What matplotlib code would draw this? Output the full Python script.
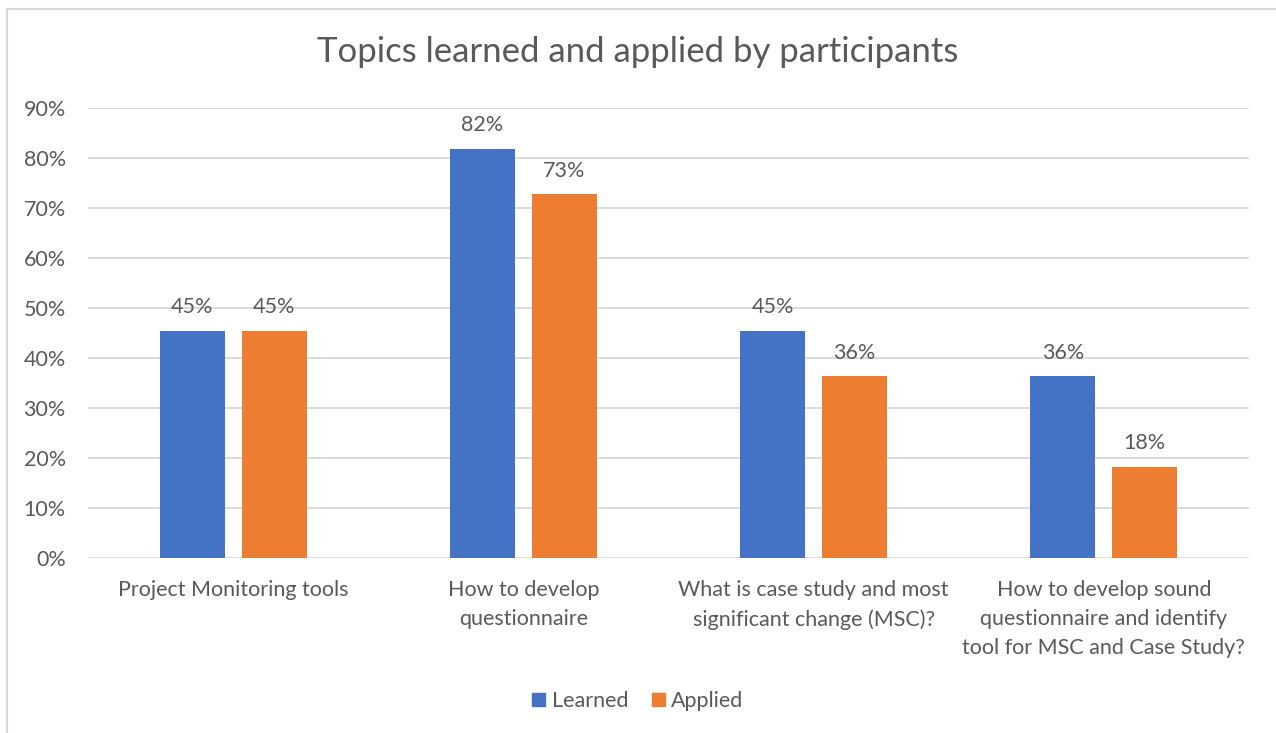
import matplotlib
matplotlib.use("Agg")
import matplotlib.pyplot as plt
import numpy as np
from matplotlib.lines import Line2D

categories = [
    "Project Monitoring tools",
    "How to develop\nquestionnaire",
    "What is case study and most\nsignificant change (MSC)?",
    "How to develop sound\nquestionnaire and identify\ntool for MSC and Case Study?",
]
learned = [0.4545, 0.8182, 0.4545, 0.3636]
applied = [0.4545, 0.7273, 0.3636, 0.1818]
series_names = ["Learned", "Applied"]
yticks = [0, 0.1, 0.2, 0.3, 0.4, 0.5, 0.6, 0.7, 0.8, 0.9]

plt.rcParams['font.family'] = ['Lato', 'DejaVu Sans']
text_color = "#595959"
blue = "#4472C4"
orange = "#ED7D31"
fs = 15.5

W, H = 1276, 733
fig = plt.figure(figsize=(W / 100, H / 100), dpi=100)
ax = fig.add_axes([88 / W, 1 - 558 / H, (1249 - 88) / W, (558 - 108) / H])

x = np.arange(len(categories))
bw = 0.224
off = 0.141
b1 = ax.bar(x - off, learned, bw, color=blue, label=series_names[0], zorder=3)
b2 = ax.bar(x + off, applied, bw, color=orange, label=series_names[1], zorder=3)

for bars, vals in ((b1, learned), (b2, applied)):
    for rect, v in zip(bars, vals):
        ax.annotate(f"{round(v * 100):d}%", (rect.get_x() + rect.get_width() / 2, v),
                    xytext=(0, 17), textcoords="offset points", ha="center", va="center",
                    fontsize=fs, color=text_color)

ax.set_xlim(-0.5, len(categories) - 0.5)
ax.set_ylim(0, 0.9)
ax.set_yticks(yticks)
ax.set_yticklabels([f"{int(round(t * 100))}%" for t in yticks])
ax.set_xticks(x)
ax.set_xticklabels(categories, linespacing=1.57, va="top")
ax.tick_params(axis="both", length=0, labelsize=fs, labelcolor=text_color)
ax.tick_params(axis="y", pad=16)
ax.tick_params(axis="x", pad=15.5)
ax.grid(axis="y", color="#d9d9d9", linewidth=1.3, zorder=0)
for s in ax.spines.values():
    s.set_visible(False)

fig.text(0.5, 1 - 52 / H, "Topics learned and applied by participants",
         ha="center", va="center", fontsize=25, color=text_color)

handles = [plt.Rectangle((0, 0), 1, 1, color=blue), plt.Rectangle((0, 0), 1, 1, color=orange)]
fig.legend(handles, series_names, loc="center", bbox_to_anchor=(0.5, 1 - 701 / H),
           ncol=2, frameon=False, fontsize=fs, labelcolor=text_color,
           handlelength=0.6, handleheight=0.6, handletextpad=0.3, columnspacing=1.1)

# chart border (left and top visible)
fig.add_artist(Line2D([7 / W, 7 / W], [0, 1 - 9 / H], color="#d9d9d9", linewidth=1.5,
                      transform=fig.transFigure))
fig.add_artist(Line2D([7 / W, 1], [1 - 9 / H, 1 - 9 / H], color="#d9d9d9", linewidth=1.5,
                      transform=fig.transFigure))

fig.savefig("out.png", dpi=100, facecolor="white")
